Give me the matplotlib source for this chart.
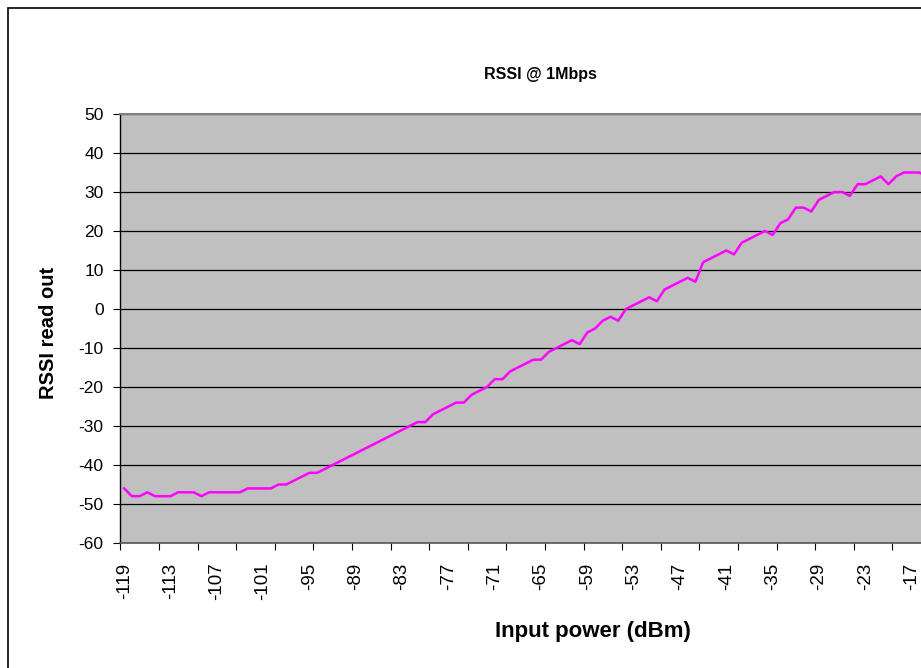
import matplotlib
matplotlib.use("Agg")
import matplotlib.pyplot as plt
from matplotlib.patches import Rectangle
from matplotlib.ticker import FixedLocator, NullFormatter

# Data
input_power = list(range(-119, -14))  # -119 .. -15 dBm
rssi = [
    -46, -48, -48, -47, -48, -48, -48, -47, -47, -47,
    -48, -47, -47, -47, -47, -47, -46, -46, -46, -46,
    -45, -45, -44, -43, -42, -42, -41, -40, -39, -38,
    -37, -36, -35, -34, -33, -32, -31, -30, -29, -29,
    -27, -26, -25, -24, -24, -22, -21, -20, -18, -18,
    -16, -15, -14, -13, -13, -11, -10, -9, -8, -9,
    -6, -5, -3, -2, -3, 0, 1, 2, 3, 2,
    5, 6, 7, 8, 7, 12, 13, 14, 15, 14,
    17, 18, 19, 20, 19, 22, 23, 26, 26, 25,
    28, 29, 30, 30, 29, 32, 32, 33, 34, 32,
    34, 35, 35, 35, 34,
]
y_ticks = [50, 40, 30, 20, 10, 0, -10, -20, -30, -40, -50, -60]
title = "RSSI @ 1Mbps"
x_label = "Input power (dBm)"
y_label = "RSSI read out"

W, H = 921, 668
plt.rcParams['font.family'] = ['Liberation Sans', 'DejaVu Sans']
fig = plt.figure(figsize=(W / 100, H / 100), dpi=100)

# chart border (extends beyond right/bottom edges)
fig.patches.append(Rectangle((8 / W, -0.1), 1.2, (H - 8) / H + 0.1,
                             transform=fig.transFigure, fill=False,
                             edgecolor='black', linewidth=1.2))

n = len(input_power)
px_left, px_top, px_bottom = 120.3, 114, 543
unit = 7.72
ax = fig.add_axes([px_left / W, (H - px_bottom) / H,
                   n * unit / W, (px_bottom - px_top) / H])
ax.set_facecolor('#C0C0C0')
idx = list(range(n))
ax.plot(idx, rssi, color='#FF00FF', linewidth=1.8, zorder=3)
ax.set_xlim(-0.5, n - 0.5)
ax.set_ylim(-60, 50)

ax.set_yticks(y_ticks)
ax.set_yticklabels([str(v) for v in y_ticks], fontsize=12.5)
ax.yaxis.grid(True, color='black', linewidth=0.9)
ax.set_axisbelow(True)

lab_idx = list(range(0, n, 6))
ax.set_xticks(lab_idx)
ax.set_xticklabels([str(input_power[i]) for i in lab_idx], rotation=90, fontsize=13.5)
ax.tick_params(axis='x', which='major', length=0, pad=14)
ax.xaxis.set_minor_locator(FixedLocator([i - 0.5 for i in range(0, n + 1, 5)]))
ax.xaxis.set_minor_formatter(NullFormatter())
ax.tick_params(axis='x', which='minor', length=5, width=0.8, color='black', direction='out')
ax.tick_params(axis='y', length=5, width=0.8, direction='out', pad=7)

for s in ['top', 'right']:
    ax.spines[s].set_color('#808080')
    ax.spines[s].set_linewidth(1.5)
ax.spines['bottom'].set_color('#555555')
ax.spines['bottom'].set_linewidth(1.2)
ax.spines['left'].set_color('black')
ax.spines['left'].set_linewidth(1.0)

fig.text(540 / W, 1 - 75 / H, title, ha='center', va='center',
         fontsize=11.5, fontweight='bold')
fig.text(593 / W, 1 - 631 / H, x_label, ha='center', va='center',
         fontsize=16, fontweight='bold')
fig.text(48 / W, 1 - 333 / H, y_label, ha='center', va='center',
         rotation=90, fontsize=14.5, fontweight='bold')

fig.savefig('out.png', dpi=100, facecolor='white')
